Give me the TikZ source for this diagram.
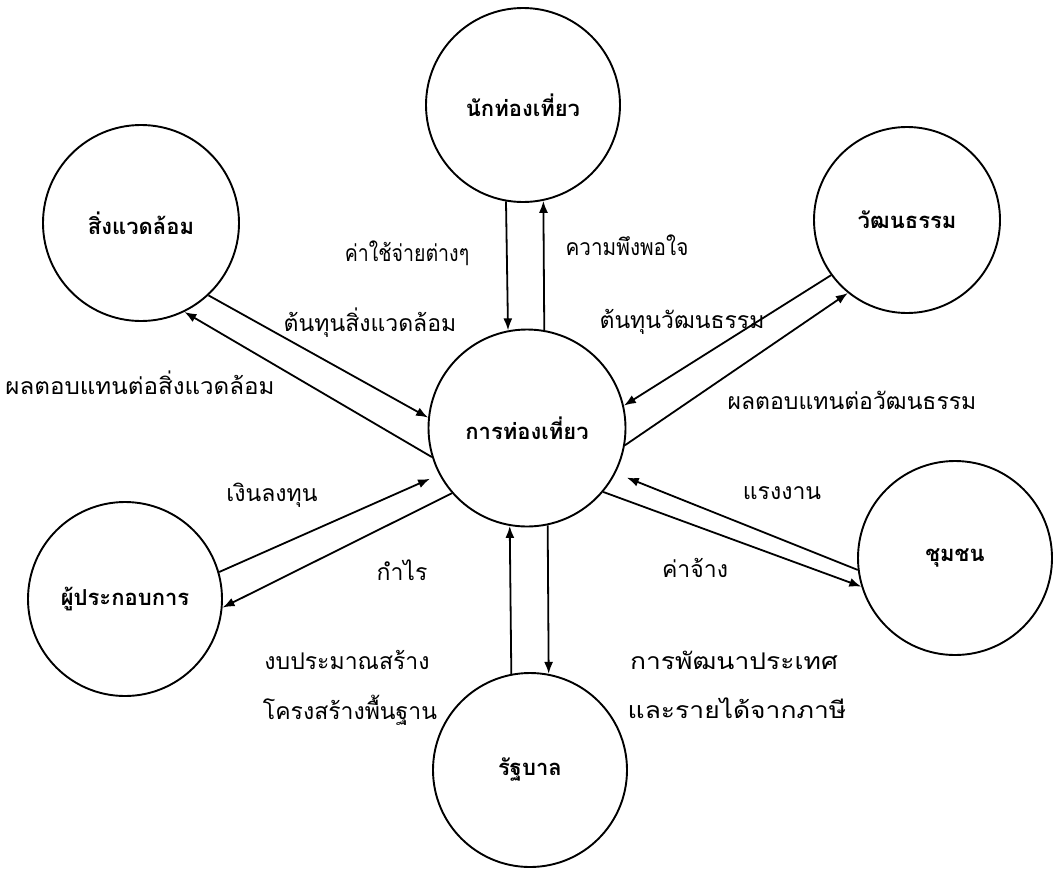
\documentclass[tikz,border=0pt]{standalone}
\usepackage{fontspec}
\usepackage{graphicx}
\newfontfamily\thai[Script=Thai]{Loma}
\usetikzlibrary{arrows.meta}
\tikzset{
  ent/.style={circle, draw, line width=1.9pt, inner sep=0pt,
    font=\thai\bfseries\fontsize{22}{26}\selectfont},
  lbl/.style={font=\thai\fontsize{23}{27}\selectfont, inner sep=0pt},
  flow/.style={line width=1.8pt, -{Latex[length=12pt,width=9pt]}},
}
\newcommand{\hs}[2]{\scalebox{#1}[1]{#2}}
\begin{document}
\begin{tikzpicture}[x=1pt,y=-1pt]
\useasboundingbox (0,0) rectangle (1054,873);
% entities
\node[ent, minimum size=194pt] (T)  at (523,105) {นักท่องเที่ยว};
\node[ent, minimum size=197pt] (C)  at (527,428) {การท่องเที่ยว};
\node[ent, minimum size=196pt] (E)  at (141,223) {สิ่งแวดล้อม};
\node[ent, minimum size=186pt] (Cu) at (907,220) {วัฒนธรรม};
\node[ent, minimum size=194pt] (En) at (125,599) {ผู้ประกอบการ};
\node[ent, minimum size=194pt] (Co) at (955,558) {ชุมชน};
\node[ent, minimum size=194pt] (G)  at (530,770) {รัฐบาล};
% flows
\draw[flow] (T.260.5) -- (C.101.7);
\draw[flow] (C.80.1) -- (T.282.5);
\draw[flow] (E.-47.3) -- (C.174.1);
\draw[flow] (C.197.1) -- (E.-64.2);
\draw[flow] (Cu.216.6) -- (C.13.9);
\draw[flow] (C.-10) -- (Cu.231.8);
\draw[flow, shorten >=10pt] (En.16.1) -- (C.208.1);
\draw[flow] (C.221.6) -- (En.-5.1);
\draw[flow, shorten >=12pt] (Co.187) -- (C.-27.6);
\draw[flow] (C.-40.4) -- (Co.197);
\draw[flow] (G.101.3) -- (C.260.6);
\draw[flow] (C.282.3) -- (G.79.3);
% labels
\node[lbl] (l1)  at (407,253) {\hs{0.85}{ค่าใช้จ่ายต่างๆ}};
\node[lbl] (l2)  at (627,245) {\hs{0.9}{ความพึงพอใจ}};
\node[lbl] (l3)  at (370,323) {ต้นทุนสิ่งแวดล้อม};
\node[lbl] (l4)  at (140,383) {\hs{1.05}{ผลตอบแทนต่อสิ่งแวดล้อม}};
\node[lbl] (l5)  at (682,322) {ต้นทุนวัฒนธรรม};
\node[lbl] (l6)  at (852,400) {ผลตอบแทนต่อวัฒนธรรม};
\node[lbl] (l7)  at (272,495) {เงินลงทุน};
\node[lbl] (l8)  at (402,570) {กำไร};
\node[lbl] (l9)  at (782,493) {แรงงาน};
\node[lbl] (l10) at (695,568) {ค่าจ้าง};
\node[lbl] (l11) at (347,660) {งบประมาณสร้าง};
\node[lbl] (l12) at (350,710) {โครงสร้างพื้นฐาน};
\node[lbl] (l13) at (734,660) {\hs{1.15}{การพัฒนาประเทศ}};
\node[lbl] (l14) at (737,708) {\hs{1.15}{และรายได้จากภาษี}};
\end{tikzpicture}
\end{document}
